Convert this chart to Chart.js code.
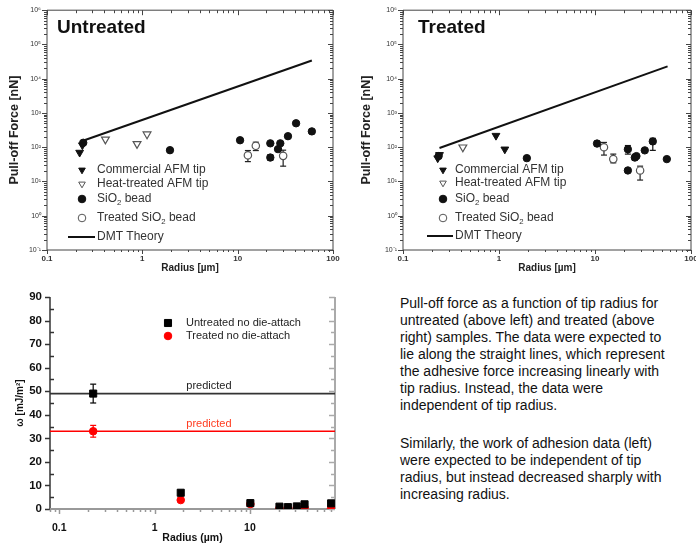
<!DOCTYPE html>
<html><head><meta charset="utf-8">
<script src="https://cdn.jsdelivr.net/npm/chart.js@4.4.0/dist/chart.umd.min.js"></script>
<style>
html,body{margin:0;padding:0;background:#fff}
body{width:696px;height:548px;overflow:hidden;position:relative;font-family:Arial,"Liberation Sans",Helvetica,sans-serif}
canvas{position:absolute}
#c1{left:0;top:0}
#c2{left:348px;top:0}
#c3{left:0;top:280px}
#txt{position:absolute;left:400px;top:295px;font-size:14px;line-height:17px;color:#111;white-space:nowrap}
#txt p{margin:0 0 21px 0}
</style></head><body>
<canvas id="c1" width="348" height="275"></canvas>
<canvas id="c2" width="360" height="275"></canvas>
<canvas id="c3" width="360" height="268"></canvas>
<div id="txt">
<p>Pull-off force as a function of tip radius for<br>untreated (above left) and treated (above<br>right) samples. The data were expected to<br>lie along the straight lines, which represent<br>the adhesive force increasing linearly with<br>tip radius. Instead, the data were<br>independent of tip radius.</p>
<p>Similarly, the work of adhesion data (left)<br>were expected to be independent of tip<br>radius, but instead decreased sharply with<br>increasing radius.</p>
</div>
<script>
// ---------- Untreated pull-off force (radius µm, force nN) ----------
const unCommercial = [{x:0.22,y:70},{x:0.235,y:115}];
const unHeat = [{x:0.41,y:170},{x:0.88,y:125},{x:1.12,y:240}];
const unBead = [{x:0.24,y:135},{x:1.95,y:82},{x:10.6,y:160},{x:22,y:130},{x:22,y:50,lo:42,hi:60},{x:26.5,y:88},{x:28,y:130},{x:33.7,y:210},{x:41,y:500},{x:60,y:290,lo:260,hi:320}];
const unTreatedBead = [{x:12.8,y:58,lo:38,hi:80},{x:15.5,y:110,lo:80,hi:140},{x:30,y:56,lo:28,hi:82}];
const unDMT = [{x:0.23,y:150},{x:60,y:34000}];

// ---------- Treated pull-off force ----------
const trCommercial = [{x:0.23,y:48},{x:0.24,y:60},{x:0.93,y:218},{x:1.15,y:87}];
const trHeat = [{x:0.42,y:100}];
const trBead = [{x:0.235,y:55},{x:1.95,y:48},{x:10.5,y:128,lo:110,hi:150},{x:22,y:87,lo:63,hi:112},{x:22,y:21},{x:26,y:50,lo:42,hi:62},{x:27,y:55},{x:33,y:81},{x:40,y:148,lo:81,hi:182},{x:56,y:45}];
const trTreatedBead = [{x:12.4,y:100,lo:59,hi:138},{x:15.5,y:45,lo:35,hi:63},{x:29.5,y:21,lo:11,hi:28}];
const trDMT = [{x:0.24,y:95},{x:57,y:23000}];

// ---------- Work of adhesion (bottom) ----------
const wRadius = [0.227,1.88,10.1,20.4,25,31,37.4,71];
const wUntreated = [49,6.9,2.5,1.0,0.8,1.1,2.0,2.4];
const wUntreatedErr = [4,0,0,0,0,0,0,0];
const wTreated = [33,3.8,2.1,0.3,0.3,0.5,0.5,0.2];
const wTreatedErr = [2.5,0,0,0,0,0,0,0];
const predictedUntreated = 49;
const predictedTreated = 33;

// ---------- tick values ----------
const forceXMajor = [0.1,1,10,100];
const forceYMajor = [0.1,1,10,100,1e3,1e4,1e5,1e6];
const wXMajor = [0.1,1,10];
const wYMajor = [0,10,20,30,40,50,60,70,80,90];

const FONT = 'Arial, "Liberation Sans", Helvetica, sans-serif';
Chart.defaults.font.family = FONT;
Chart.defaults.color = '#222';

function minorLog(min,max){
  const out=[];
  for(let e=Math.floor(Math.log10(min));e<=Math.ceil(Math.log10(max));e++){
    const b=Math.pow(10,e);
    for(let k=2;k<10;k++){const v=k*b; if(v>=min*0.999&&v<=max*1.001) out.push(v);}
  }
  return out;
}
const SUP={'-':'\u207B','0':'\u2070','1':'\u00B9','2':'\u00B2','3':'\u00B3','4':'\u2074','5':'\u2075','6':'\u2076'};
function pow10Label(v){const e=Math.round(Math.log10(v));return '10'+String(e).split('').map(c=>SUP[c]).join('');}

function seg(ctx,x1,y1,x2,y2){ctx.beginPath();ctx.moveTo(x1,y1);ctx.lineTo(x2,y2);ctx.stroke();}

function makeFrame(cfg){
  return {
    id:'frame',
    beforeDatasetsDraw(chart){
      const {ctx,chartArea:a}=chart;
      ctx.save();
      cfg.sides.forEach(s=>{
        const isX=s.pos==='top'||s.pos==='bottom';
        const base=s.pos==='top'?a.top:s.pos==='bottom'?a.bottom:s.pos==='left'?a.left:a.right;
        const out=(s.pos==='bottom'||s.pos==='right')?1:-1;
        ctx.strokeStyle=s.color;
        if(s.line){
          ctx.lineWidth=s.width||1;
          if(isX) seg(ctx,a.left,base,a.right,base); else seg(ctx,base,a.top,base,a.bottom);
        }
        ctx.lineWidth=s.tickWidth||1;
        const scale=isX?chart.scales.x:chart.scales.y;
        const vals=isX?cfg.x:cfg.y;
        [[s.major,vals.major],[s.minor,vals.minor]].forEach(g=>{
          const len=g[0]||0;
          g[1].forEach(v=>{
            const p=Math.round(scale.getPixelForValue(v))+0.5;
            if(isX) seg(ctx,p,base,p,base+out*len); else seg(ctx,base,p,base+out*len,p);
          });
        });
      });
      ctx.restore();
    }
  };
}

const errPlugin={
  id:'err',
  beforeDatasetsDraw(chart){
    const ctx=chart.ctx, ys=chart.scales.y;
    ctx.save();
    chart.data.datasets.forEach((ds,i)=>{
      const meta=chart.getDatasetMeta(i);
      ds.data.forEach((p,j)=>{
        if(p.lo==null||p.hi==null||p.lo===p.hi) return;
        const el=meta.data[j]; if(!el) return;
        const x=el.x, y1=ys.getPixelForValue(p.lo), y2=ys.getPixelForValue(p.hi);
        ctx.strokeStyle=ds.errColor||'#111'; ctx.lineWidth=1.2;
        seg(ctx,x,y1,x,y2); seg(ctx,x-3,y1,x+3,y1); seg(ctx,x-3,y2,x+3,y2);
      });
    });
    ctx.restore();
  }
};

function drawMarker(ctx,style,x,y,r,fill,stroke,rot){
  ctx.save();
  ctx.fillStyle=fill; ctx.strokeStyle=stroke; ctx.lineWidth=1;
  ctx.beginPath();
  if(style==='triangle'){
    const s=rot?-1:1;
    ctx.moveTo(x,y-s*r); ctx.lineTo(x-r*0.87,y+s*r*0.5); ctx.lineTo(x+r*0.87,y+s*r*0.5); ctx.closePath();
  } else if(style==='rect'){
    const h=r*0.707; ctx.rect(x-h,y-h,2*h,2*h);
  } else { ctx.arc(x,y,r,0,Math.PI*2); }
  ctx.fill(); ctx.stroke();
  ctx.restore();
}
function richText(ctx,label,x,y,size,color){
  const parts=label.split(/(O2)/).filter(Boolean).flatMap(t=>t==='O2'?[['O',0],['2','sub']]:[[t,0]]);
  let cx=x;
  ctx.save(); ctx.fillStyle=color; ctx.textBaseline='middle'; ctx.textAlign='left';
  parts.forEach(([t,m])=>{
    const s=m?size*0.65:size;
    ctx.font=s+'px '+FONT;
    ctx.fillText(t,cx,y+(m==='sub'?size*0.35:0));
    cx+=ctx.measureText(t).width;
  });
  ctx.restore();
}

function makeLegend(o){
  return {
    id:'boxlegend',
    afterDatasetsDraw(chart){
      const ctx=chart.ctx;
      chart.data.datasets.forEach((ds,i)=>{
        const y=o.rows[i]; if(y==null) return;
        if(ds.showLine){
          ctx.save(); ctx.strokeStyle=ds.borderColor; ctx.lineWidth=ds.borderWidth; seg(ctx,o.lineX1,y,o.lineX2,y); ctx.restore();
        } else {
          drawMarker(ctx,ds.pointStyle,o.markerX,y,(o.markerR||ds.pointRadius),ds.pointBackgroundColor,ds.pointBorderColor,ds.pointRotation);
        }
        richText(ctx,ds.label,o.textX,y,o.size,o.color);
      });
      if(o.title){
        ctx.save(); ctx.font='bold '+o.title.size+'px '+FONT; ctx.fillStyle='#111'; ctx.textBaseline='middle';
        ctx.fillText(o.title.text,o.title.x,o.title.y); ctx.restore();
      }
      (o.notes||[]).forEach(n=>{
        const px=chart.scales.x.getPixelForValue(n.x), py=chart.scales.y.getPixelForValue(n.y);
        ctx.save(); ctx.font=n.size+'px '+FONT; ctx.fillStyle=n.color; ctx.textBaseline='bottom'; ctx.fillText(n.text,px,py-2); ctx.restore();
      });
    }
  };
}

function forceChart(id,title,sets,lay){
  const frame=makeFrame({
    x:{major:forceXMajor,minor:minorLog(0.1,100)},
    y:{major:forceYMajor,minor:minorLog(0.1,1e6)},
    sides:[
      {pos:'left',line:true,color:'#444',major:5,minor:3},
      {pos:'bottom',line:true,color:'#444',major:4,minor:2},
      {pos:'top',line:true,color:'#444',major:-5,minor:-3},
      {pos:'right',line:true,color:'#444',major:-5,minor:-3}
    ]
  });
  const legend=makeLegend({rows:lay.rows,markerX:lay.markerX,textX:lay.textX,lineX1:lay.lineX1,lineX2:lay.lineX2,size:12,color:'#333',markerR:3.8,
    title:{text:title,x:lay.titleX,y:28,size:19}});
  return new Chart(document.getElementById(id),{
    type:'scatter',
    data:{datasets:[
      {label:'Commercial AFM tip',data:sets.commercial,pointStyle:'triangle',pointRotation:180,pointRadius:4.5,pointBackgroundColor:'#111',pointBorderColor:'#111',pointBorderWidth:1},
      {label:'Heat-treated AFM tip',data:sets.heat,pointStyle:'triangle',pointRotation:180,pointRadius:4.5,pointBackgroundColor:'#fff',pointBorderColor:'#555',pointBorderWidth:1.2},
      {label:'SiO2 bead',data:sets.bead,pointStyle:'circle',pointRadius:3.7,pointBackgroundColor:'#111',pointBorderColor:'#111',pointBorderWidth:1,errColor:'#111'},
      {label:'Treated SiO2 bead',data:sets.tbead,pointStyle:'circle',pointRadius:3.7,pointBackgroundColor:'#fff',pointBorderColor:'#555',pointBorderWidth:1.2,errColor:'#222'},
      {label:'DMT Theory',data:sets.dmt,showLine:true,pointRadius:0,borderColor:'#111',backgroundColor:'#111',borderWidth:2}
    ]},
    options:{
      responsive:false,animation:false,devicePixelRatio:1,events:[],
      layout:{padding:{top:lay.top,right:lay.right,left:0,bottom:0}},
      plugins:{legend:{display:false},tooltip:{enabled:false}},
      scales:{
        x:{type:'logarithmic',min:0.1,max:100,
          afterBuildTicks:s=>{s.ticks=forceXMajor.map(v=>({value:v}));},
          afterFit:s=>{s.height=25;},
          grid:{display:false,drawTicks:false},border:{display:false},
          ticks:{autoSkip:false,maxRotation:0,padding:4,font:{size:8,weight:'bold'},color:'#333',callback:v=>String(v)},
          title:{display:true,text:'Radius [\u00B5m]',font:{size:10,weight:'bold'},color:'#222',padding:{top:0,bottom:1}}
        },
        y:{type:'logarithmic',min:0.1,max:1e6,
          afterBuildTicks:s=>{s.ticks=forceYMajor.map(v=>({value:v}));},
          afterFit:s=>{s.width=lay.yw;},
          grid:{display:false,drawTicks:false},border:{display:false},
          ticks:{autoSkip:false,padding:6,font:{size:7},color:'#333',callback:v=>pow10Label(v)},
          title:{display:true,text:'Pull-off Force [nN]',font:{size:12.5,weight:'bold'},color:'#222',padding:{top:lay.ytp,bottom:0}}
        }
      }
    },
    plugins:[frame,errPlugin,legend]
  });
}

forceChart('c1','Untreated',{commercial:unCommercial,heat:unHeat,bead:unBead,tbead:unTreatedBead,dmt:unDMT},
  {top:5,right:15,yw:47,ytp:7,rows:[170,184,199,218,237],markerX:82,textX:97,lineX1:68,lineX2:95,titleX:57});
forceChart('c2','Treated',{commercial:trCommercial,heat:trHeat,bead:trBead,tbead:trTreatedBead,dmt:trDMT},
  {top:6,right:17,yw:55,ytp:11,rows:[170,183,199,218,236],markerX:95,textX:107,lineX1:79,lineX2:105,titleX:70});

// ---------- bottom chart ----------
const wUntreatedPts = wRadius.map((r,i)=>({x:r,y:wUntreated[i],lo:wUntreated[i]-wUntreatedErr[i],hi:wUntreated[i]+wUntreatedErr[i]}));
const wTreatedPts = wRadius.map((r,i)=>({x:r,y:wTreated[i],lo:wTreated[i]-wTreatedErr[i],hi:wTreated[i]+wTreatedErr[i]}));
const W_XMIN=0.08, W_XMAX=78;

const wFrame=makeFrame({
  x:{major:wXMajor,minor:minorLog(W_XMIN,W_XMAX)},
  y:{major:wYMajor,minor:wYMajor.map(v=>v+5).filter(v=>v<90)},
  sides:[
    {pos:'left',line:true,color:'#333',width:1.5,major:5,minor:-4,tickWidth:1.5},
    {pos:'bottom',line:true,color:'#999',width:2,major:5,minor:3,tickWidth:1.5},
    {pos:'right',line:true,color:'#aaa',width:2,major:-6,minor:-4,tickWidth:1.5}
  ]
});
const wLegend=makeLegend({rows:[43,56],markerX:168,textX:186,size:11,color:'#222',
  notes:[{text:'predicted',x:2.15,y:predictedUntreated,size:11,color:'#222'},{text:'predicted',x:2.15,y:predictedTreated,size:11,color:'#ff3b1f'}]});

new Chart(document.getElementById('c3'),{
  type:'scatter',
  data:{datasets:[
    {label:'Untreated no die-attach',data:wUntreatedPts,pointStyle:'rect',pointRadius:5,pointBackgroundColor:'#000',pointBorderColor:'#000',pointBorderWidth:1,errColor:'#000'},
    {label:'Treated no die-attach',data:wTreatedPts,pointStyle:'circle',pointRadius:3.8,pointBackgroundColor:'#ff0000',pointBorderColor:'#ff0000',pointBorderWidth:1,errColor:'#ff0000'},
    {label:'predicted',data:[{x:W_XMIN,y:predictedUntreated},{x:W_XMAX,y:predictedUntreated}],showLine:true,pointRadius:0,borderColor:'#333',borderWidth:1.6},
    {label:'predicted',data:[{x:W_XMIN,y:predictedTreated},{x:W_XMAX,y:predictedTreated}],showLine:true,pointRadius:0,borderColor:'#ff0000',borderWidth:1.3}
  ]},
  options:{
    responsive:false,animation:false,devicePixelRatio:1,events:[],
    layout:{padding:{top:17,right:25,left:0,bottom:0}},
    plugins:{legend:{display:false},tooltip:{enabled:false}},
    scales:{
      x:{type:'logarithmic',min:W_XMIN,max:W_XMAX,
        afterBuildTicks:s=>{s.ticks=wXMajor.map(v=>({value:v}));},
        afterFit:s=>{s.height=39;},
        grid:{display:false,drawTicks:false},border:{display:false},
        ticks:{autoSkip:false,maxRotation:0,padding:13,font:{size:10.5,weight:'bold'},color:'#111',callback:v=>String(v)},
        title:{display:true,text:'Radius (\u00B5m)',font:{size:10.5,weight:'bold'},color:'#111',padding:{top:0,bottom:4}}
      },
      y:{type:'linear',min:0,max:90,
        afterBuildTicks:s=>{s.ticks=wYMajor.map(v=>({value:v}));},
        afterFit:s=>{s.width=50;},
        grid:{display:false,drawTicks:false},border:{display:false},
        ticks:{autoSkip:false,padding:8,font:{size:11.5,weight:'bold'},color:'#111'},
        title:{display:true,text:'\u03C9 [mJ/m\u00B2]',font:{size:10,weight:'bold'},color:'#111',padding:{top:14,bottom:0}}
      }
    }
  },
  plugins:[wFrame,errPlugin,wLegend]
});
</script>
</body></html>
